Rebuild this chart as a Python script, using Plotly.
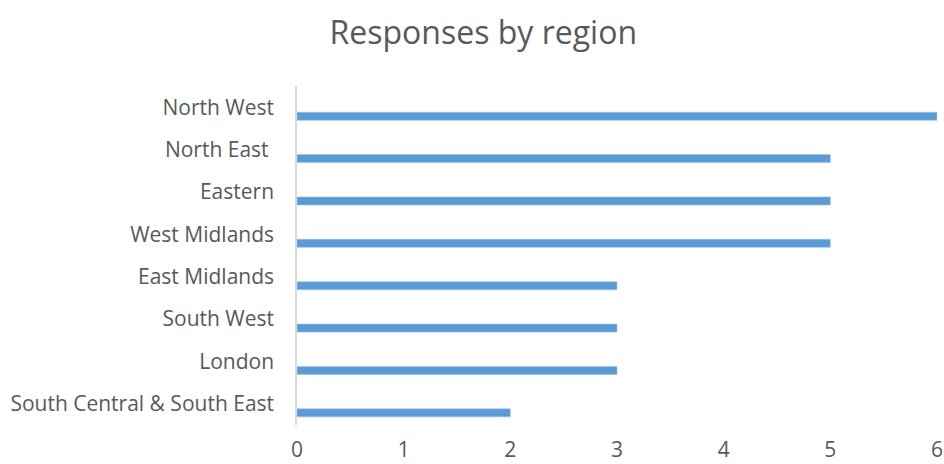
import plotly.graph_objects as go

regions = ["North West", "North East ", "Eastern", "West Midlands", "East Midlands",
           "South West", "London", "South Central & South East"]
responses = [6, 5, 5, 5, 3, 3, 3, 2]
x_ticks = [0, 1, 2, 3, 4, 5, 6]

FONT = "Open Sans"
GREY = "#595959"

fig = go.Figure()
fig.add_trace(go.Bar(
    y=regions, x=responses, orientation="h",
    width=0.19, offset=0.118,
    marker=dict(color="#5B9BD5", line=dict(color="#9DC3E6", width=0.6)),
    hoverinfo="x+y",
))

fig.update_layout(
    width=944, height=464,
    margin=dict(l=297, r=7, t=86, b=39),
    paper_bgcolor="white", plot_bgcolor="white",
    showlegend=False,
    title=dict(text="Responses by region", x=0.512, xanchor="center", y=0.93, yanchor="middle",
               font=dict(family=FONT, size=32, color=GREY)),
    font=dict(family=FONT, color=GREY),
    xaxis=dict(range=[0, 6], tickvals=x_ticks, showgrid=False, zeroline=False,
               showline=False, ticks="", ticklabelstandoff=10, automargin=False,
               tickfont=dict(size=21, color=GREY)),
    yaxis=dict(autorange="reversed", showgrid=False, zeroline=False,
               showline=True, linecolor="#D9D9D9", linewidth=1.5, ticks="",
               ticklabelstandoff=17, automargin=False, tickfont=dict(size=21, color=GREY)),
)

fig.write_html("out.html")
